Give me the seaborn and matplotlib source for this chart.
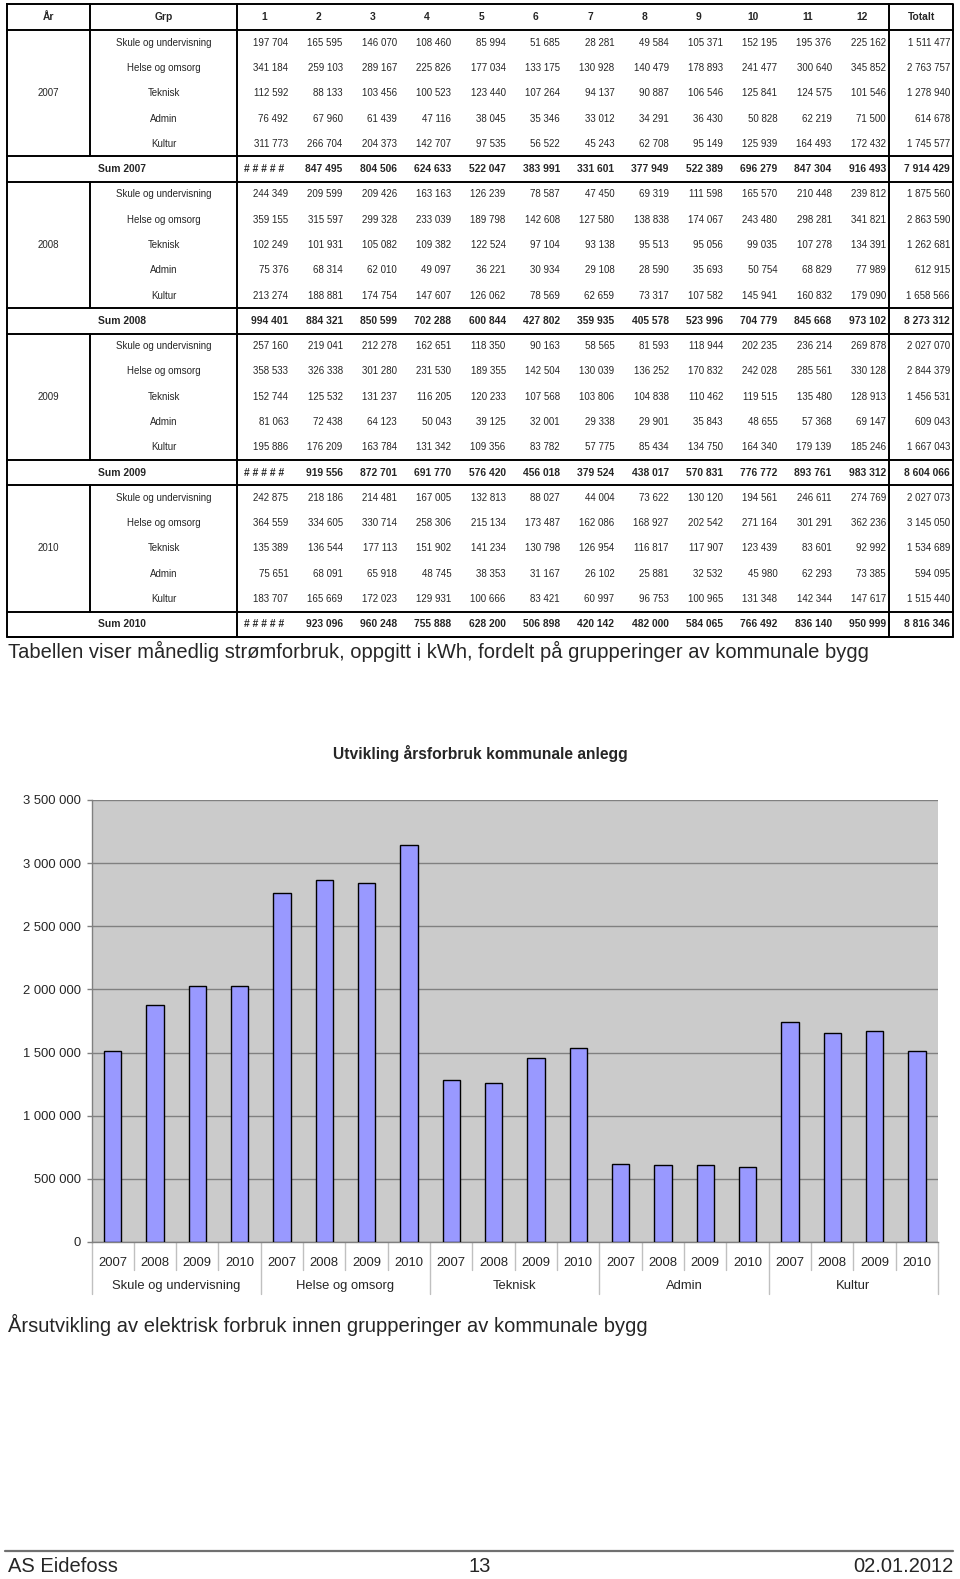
import numpy as np
import pandas as pd
import matplotlib
matplotlib.use("Agg")
import matplotlib.pyplot as plt
import matplotlib.transforms as mtrans
import seaborn as sns

# ---------------- data ----------------
years = [2007, 2008, 2009, 2010]
groups = ["Skule og undervisning", "Helse og omsorg", "Teknisk", "Admin", "Kultur"]
month_labels = [str(m) for m in range(1, 13)]

skule_2007 = [197704, 165595, 146070, 108460, 85994, 51685, 28281, 49584, 105371, 152195, 195376, 225162]
helse_2007 = [341184, 259103, 289167, 225826, 177034, 133175, 130928, 140479, 178893, 241477, 300640, 345852]
teknisk_2007 = [112592, 88133, 103456, 100523, 123440, 107264, 94137, 90887, 106546, 125841, 124575, 101546]
admin_2007 = [76492, 67960, 61439, 47116, 38045, 35346, 33012, 34291, 36430, 50828, 62219, 71500]
kultur_2007 = [311773, 266704, 204373, 142707, 97535, 56522, 45243, 62708, 95149, 125939, 164493, 172432]

skule_2008 = [244349, 209599, 209426, 163163, 126239, 78587, 47450, 69319, 111598, 165570, 210448, 239812]
helse_2008 = [359155, 315597, 299328, 233039, 189798, 142608, 127580, 138838, 174067, 243480, 298281, 341821]
teknisk_2008 = [102249, 101931, 105082, 109382, 122524, 97104, 93138, 95513, 95056, 99035, 107278, 134391]
admin_2008 = [75376, 68314, 62010, 49097, 36221, 30934, 29108, 28590, 35693, 50754, 68829, 77989]
kultur_2008 = [213274, 188881, 174754, 147607, 126062, 78569, 62659, 73317, 107582, 145941, 160832, 179090]

skule_2009 = [257160, 219041, 212278, 162651, 118350, 90163, 58565, 81593, 118944, 202235, 236214, 269878]
helse_2009 = [358533, 326338, 301280, 231530, 189355, 142504, 130039, 136252, 170832, 242028, 285561, 330128]
teknisk_2009 = [152744, 125532, 131237, 116205, 120233, 107568, 103806, 104838, 110462, 119515, 135480, 128913]
admin_2009 = [81063, 72438, 64123, 50043, 39125, 32001, 29338, 29901, 35843, 48655, 57368, 69147]
kultur_2009 = [195886, 176209, 163784, 131342, 109356, 83782, 57775, 85434, 134750, 164340, 179139, 185246]

skule_2010 = [242875, 218186, 214481, 167005, 132813, 88027, 44004, 73622, 130120, 194561, 246611, 274769]
helse_2010 = [364559, 334605, 330714, 258306, 215134, 173487, 162086, 168927, 202542, 271164, 301291, 362236]
teknisk_2010 = [135389, 136544, 177113, 151902, 141234, 130798, 126954, 116817, 117907, 123439, 83601, 92992]
admin_2010 = [75651, 68091, 65918, 48745, 38353, 31167, 26102, 25881, 32532, 45980, 62293, 73385]
kultur_2010 = [183707, 165669, 172023, 129931, 100666, 83421, 60997, 96753, 100965, 131348, 142344, 147617]

sum_2007 = [1039745, 847495, 804506, 624633, 522047, 383991, 331601, 377949, 522389, 696279, 847304, 916493]
sum_2008 = [994401, 884321, 850599, 702288, 600844, 427802, 359935, 405578, 523996, 704779, 845668, 973102]
sum_2009 = [1045386, 919556, 872701, 691770, 576420, 456018, 379524, 438017, 570831, 776772, 893761, 983312]
sum_2010 = [1002181, 923096, 960248, 755888, 628200, 506898, 420142, 482000, 584065, 766492, 836140, 950999]

total_2007 = [1511477, 2763757, 1278940, 614678, 1745577]
total_2008 = [1875560, 2863590, 1262681, 612915, 1658566]
total_2009 = [2027070, 2844379, 1456531, 609043, 1667043]
total_2010 = [2027073, 3145050, 1534689, 594095, 1515440]
sum_total = [7914429, 8273312, 8604066, 8816346]

yticks = [0, 500000, 1000000, 1500000, 2000000, 2500000, 3000000, 3500000]

monthly = {
    2007: [skule_2007, helse_2007, teknisk_2007, admin_2007, kultur_2007],
    2008: [skule_2008, helse_2008, teknisk_2008, admin_2008, kultur_2008],
    2009: [skule_2009, helse_2009, teknisk_2009, admin_2009, kultur_2009],
    2010: [skule_2010, helse_2010, teknisk_2010, admin_2010, kultur_2010],
}
sums = {2007: sum_2007, 2008: sum_2008, 2009: sum_2009, 2010: sum_2010}
totals = {2007: total_2007, 2008: total_2008, 2009: total_2009, 2010: total_2010}


def fmt(v):
    return f"{v:,}".replace(",", " ")


# ---------------- figure ----------------
sns.set_theme(style="white")
plt.rcParams["font.family"] = ["Liberation Sans", "DejaVu Sans"]

W, H = 960, 1579
fig = plt.figure(figsize=(W / 100, H / 100), dpi=100)
fig.patch.set_facecolor("white")

page = fig.add_axes([0, 0, 1, 1])
page.set_xlim(0, W)
page.set_ylim(H, 0)
page.axis("off")

renderer = fig.canvas.get_renderer()


def fit_text(x, y, s, width, ha="left", maxsize=None, **kw):
    t = page.text(x, y, s, ha=ha, va="center", fontsize=10, **kw)
    w = t.get_window_extent(renderer=renderer).width
    size = 10 * width / w
    if maxsize is not None:
        size = min(size, maxsize)
    t.set_fontsize(size)
    return t


# ---------------- table ----------------
L, R = 7, 953
T, B = 4, 637
xA, xG, xM, xT = 90, 237, 237, 889
hdr_b = 30
rh = (B - hdr_b) / 24.0
cw = (xT - xM) / 12.0
lw = 1.4
fs = 7.0
fsb = 7.4

# header
page.text((L + xA) / 2, (T + hdr_b) / 2, "År", ha="center", va="center", fontsize=fsb, fontweight="bold")
page.text((xA + xG) / 2, (T + hdr_b) / 2, "Grp", ha="center", va="center", fontsize=fsb, fontweight="bold")
for k, m in enumerate(month_labels):
    page.text(xM + cw * (k + 0.5), (T + hdr_b) / 2, m, ha="center", va="center", fontsize=fsb, fontweight="bold")
page.text((xT + R) / 2, (T + hdr_b) / 2, "Totalt", ha="center", va="center", fontsize=fsb, fontweight="bold")

# lines
page.plot([L, R, R, L, L], [T, T, B, B, T], color="black", lw=lw)
page.plot([xM, xM], [T, B], color="black", lw=lw)
page.plot([xT, xT], [T, B], color="black", lw=lw)
page.plot([L, R], [hdr_b, hdr_b], color="black", lw=lw)
page.plot([xA, xA], [T, hdr_b], color="black", lw=lw)

for yi, yr in enumerate(years):
    y0 = hdr_b + yi * 6 * rh
    ys = y0 + 5 * rh
    ye = y0 + 6 * rh
    page.plot([xA, xA], [y0, ys], color="black", lw=lw)
    page.plot([L, R], [ys, ys], color="black", lw=lw)
    page.plot([L, R], [ye, ye], color="black", lw=lw)
    page.text((L + xA) / 2, (y0 + ys) / 2, str(yr), ha="center", va="center", fontsize=fs)
    for gi, g in enumerate(groups):
        yc = y0 + (gi + 0.5) * rh
        page.text((xA + xG) / 2, yc, g, ha="center", va="center", fontsize=fs)
        vals = monthly[yr][gi]
        for k, v in enumerate(vals):
            page.text(xM + cw * (k + 1) - 3, yc, fmt(v), ha="right", va="center", fontsize=fs)
        page.text(R - 3, yc, fmt(totals[yr][gi]), ha="right", va="center", fontsize=fs)
    yc = ys + 0.5 * rh
    page.text((L + xG) / 2, yc, f"Sum {yr}", ha="center", va="center", fontsize=fsb, fontweight="bold")
    for k, v in enumerate(sums[yr]):
        if v >= 1000000:
            page.text(xM + cw * (k + 0.5), yc, "# # # # #", ha="center", va="center",
                      fontsize=fsb, fontweight="bold")
        else:
            page.text(xM + cw * (k + 1) - 3, yc, fmt(v), ha="right", va="center", fontsize=fsb, fontweight="bold")
    page.text(R - 3, yc, fmt(sum_total[yi]), ha="right", va="center", fontsize=fsb, fontweight="bold")

fit_text(8, 651, "Tabellen viser månedlig strømforbruk, oppgitt i kWh, fordelt på grupperinger av kommunale bygg", 862)

# ---------------- chart ----------------
fit_text(480, 753, "Utvikling årsforbruk kommunale anlegg", 296, ha="center", fontweight="bold")

pl, pr, pt, pb = 91.5, 938, 800, 1242
ax = fig.add_axes([pl / W, (H - pb) / H, (pr - pl) / W, (pb - pt) / H])
ax.set_facecolor("#CBCBCB")

rows = []
for g_i, g in enumerate(groups):
    for yr in years:
        rows.append({"key": f"{g}\n{yr}", "group": g, "year": str(yr), "total": totals[yr][g_i]})
df = pd.DataFrame(rows)

sns.barplot(data=df, x="key", y="total", order=list(df["key"]), color="#9999FF",
            saturation=1, width=0.41, edgecolor="black", linewidth=1.0, ax=ax, zorder=3)

ax.set_xlim(-0.5, len(df) - 0.5)
ax.set_ylim(0, 3500000)
ax.set_yticks(yticks)
ax.set_yticklabels([fmt(v) for v in yticks], fontsize=9.4)
ax.yaxis.grid(True, color="#808080", lw=1.0, zorder=0)
ax.set_axisbelow(True)
ax.tick_params(axis="y", length=3.5, width=1, color="#808080", pad=4, left=True)
ax.set_xticks(range(len(df)))
ax.set_xticklabels(df["year"], fontsize=9.4)
ax.tick_params(axis="x", length=0, pad=11)
ax.set_xlabel("")
ax.set_ylabel("")
for s in ["top", "right"]:
    ax.spines[s].set_visible(False)
ax.spines["left"].set_color("#808080")
ax.spines["bottom"].set_color("#808080")
ax.spines["left"].set_linewidth(1.0)
ax.spines["bottom"].set_linewidth(1.0)

axh = pb - pt
tr = mtrans.blended_transform_factory(ax.transData, ax.transAxes)
for i in range(len(df) + 1):
    xpos = i - 0.5
    long = (i % 4 == 0)
    yend = -(1294 - pb) / axh if long else -(1270 - pb) / axh
    ax.plot([xpos, xpos], [0, yend], transform=tr, color="#C0C0C0", lw=1.0, clip_on=False)
for g_i, g in enumerate(groups):
    ax.text(g_i * 4 + 1.5, -(1286 - pb) / axh, g, transform=tr, ha="center", va="center", fontsize=9.4)

fit_text(8, 1325, "Årsutvikling av elektrisk forbruk innen grupperinger av kommunale bygg", 642)

# ---------------- footer ----------------
page.plot([5, 953], [1551, 1551], color="#707070", lw=1.6)
fsz = 14.5
fit_text(8, 1566, "AS Eidefoss", 114, maxsize=fsz)
fit_text(480, 1566, "13", 23, ha="center", maxsize=fsz)
fit_text(953, 1566, "02.01.2012", 112, ha="right", maxsize=fsz)

fig.savefig("out.png", dpi=100, facecolor="white")
